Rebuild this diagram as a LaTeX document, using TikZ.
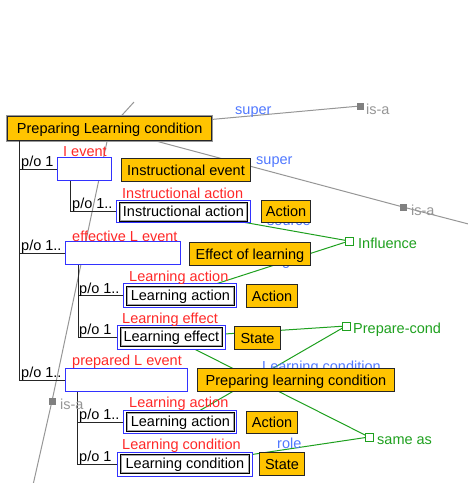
\documentclass[tikz,border=0pt]{standalone}
\usepackage{fontspec}
\setmainfont{Liberation Sans}
\usetikzlibrary{calc,backgrounds}
\definecolor{hozoorange}{RGB}{255,196,0}
\definecolor{hozoblue}{RGB}{50,50,255}
\definecolor{hozored}{RGB}{255,40,40}
\definecolor{rolblue}{RGB}{80,120,255}
\definecolor{hozogreen}{RGB}{30,160,30}
\definecolor{isagray}{RGB}{150,150,150}
\begin{document}
\begin{tikzpicture}[x=1pt,y=-1pt,font=\fontsize{14.5}{16}\selectfont,
  obox/.style={draw=black!85,line width=1pt,fill=hozoorange,anchor=north west,inner sep=0pt,
    text height=10pt,text depth=0pt,minimum height=23pt},
  mainbox/.style={obox,line width=1.4pt,preaction={draw=isagray,line width=3.4pt}},
  bbox/.style={draw=hozoblue,line width=1pt,fill=white,anchor=north west,inner sep=0pt},
  ibox/.style={draw=gray!70,line width=0.8pt,fill=white,anchor=north west,inner sep=0pt,
    text height=10pt,text depth=0pt,minimum height=17pt,preaction={draw=black,line width=2.6pt}},
  rlab/.style={text=hozored,anchor=base west,inner sep=0pt},
  blab/.style={text=rolblue,anchor=base west,inner sep=0pt},
  glab/.style={text=hozogreen,anchor=base west,inner sep=0pt},
  ilab/.style={text=isagray,anchor=base west,inner sep=0pt},
  po/.style={anchor=base west,inner sep=0pt},
  tree/.style={draw=black!85,line width=1pt},
  isaline/.style={draw=isagray,line width=1pt},
  gline/.style={draw=hozogreen,line width=1pt},
  gsq/.style={draw=hozogreen,fill=white,line width=1pt,minimum size=8pt,inner sep=0pt},
  isq/.style={fill=gray,minimum size=7pt,inner sep=0pt}]
\useasboundingbox (0,0) rectangle (468,483);

% main concept
\node[mainbox,minimum width=204pt,minimum height=24pt] (main) at (7,116) {Preparing Learning condition};

% slots
\node[bbox,minimum width=54pt,minimum height=23pt] (ev1) at (57,157) {};
\node[obox,minimum width=129pt] (ie) at (121,158) {Instructional event};
\node[bbox,minimum width=134pt,minimum height=22pt] (iab) at (116,200) {};
\node[ibox,minimum width=126pt] (ia) at (120,203) {Instructional action};
\node[obox,minimum width=49pt,minimum height=22pt] (act1) at (261,200) {Action};

\node[bbox,minimum width=115pt,minimum height=23pt] (ev2) at (65,241) {};
\node[obox,minimum width=121pt] (eol) at (189,242) {Effect of learning};
\node[bbox,minimum width=113pt,minimum height=24pt] (la1b) at (123,283) {};
\node[ibox,minimum width=106pt] (la1) at (127,287) {Learning action};
\node[obox,minimum width=51pt] (act2) at (246,284) {Action};
\node[bbox,minimum width=108pt,minimum height=24pt] (leb) at (117,325) {};
\node[ibox,minimum width=100pt] (le) at (121,328) {Learning effect};
\node[obox,minimum width=46pt] (st1) at (234,326) {State};

\node[bbox,minimum width=122pt,minimum height=23pt] (ev3) at (65,368) {};
\node[obox,minimum width=197pt] (plc) at (197,368) {Preparing learning condition};
\node[bbox,minimum width=113pt,minimum height=23pt] (la2b) at (123,410) {};
\node[ibox,minimum width=106pt] (la2) at (127,413) {Learning action};
\node[obox,minimum width=51pt,minimum height=22pt] (act3) at (246,411) {Action};
\node[bbox,minimum width=135pt,minimum height=24pt] (lcb) at (117,452) {};
\node[ibox,minimum width=127pt] (lc) at (121,455) {Learning condition};
\node[obox,minimum width=45pt] (st2) at (259,452) {State};

% red role names
\node[rlab] (r1) at (63,156) {I event};
\node[rlab] (r2) at (122,198) {Instructional action};
\node[rlab] (r3) at (72,241) {effective L event};
\node[rlab] (r4) at (129,281) {Learning action};
\node[rlab] (r5) at (122,323) {Learning effect};
\node[rlab] (r6) at (72,365) {prepared L event};
\node[rlab] (r7) at (129,407) {Learning action};
\node[rlab] (r8) at (122,449) {Learning condition};

% part-of tree
\draw[tree] ($(main.south west)+(12,0)$) |- (ev1.west);
\draw[tree] ($(main.south west)+(12,0)$) |- (ev2.west);
\draw[tree] ($(main.south west)+(12,0)$) |- (ev3.west);
\draw[tree] ($(ev1.south west)+(13,0)$) |- (iab.west);
\draw[tree] ($(ev2.south west)+(13,0)$) |- (la1b.west);
\draw[tree] ($(ev2.south west)+(13,0)$) |- (leb.west);
\draw[tree] ($(ev3.south west)+(12,0)$) |- (la2b.west);
\draw[tree] ($(ev3.south west)+(12,0)$) |- (lcb.west);
\node[po] (p1) at (21,166) {p/o 1};
\node[po] (p2) at (72,208) {p/o 1..};
\node[po] (p3) at (21,250) {p/o 1..};
\node[po] (p4) at (79,293) {p/o 1..};
\node[po] (p5) at (79,334) {p/o 1};
\node[po] (p6) at (21,377) {p/o 1..};
\node[po] (p7) at (79,419) {p/o 1..};
\node[po] (p8) at (79,461) {p/o 1};

% is-a squares and relation squares
\node[isq] (isa1) at (360,106) {};
\node[isq] (isa2) at (403,207) {};
\node[isq] (isa3) at (52,401) {};
\coordinate (isa2end) at (480,227);
\coordinate (isa3end) at (33,485);
\coordinate (upend) at (134,102);
\node[gsq] (inf) at (349,241) {};
\node[gsq] (pc) at (346,326) {};
\node[gsq] (sa) at (369,437) {};

\node[ilab] (t1) at (366,114) {is-a};
\node[ilab] (t2) at (411,215) {is-a};
\node[ilab] (t3) at (60,409) {is-a};
\node[glab] (t4) at (358,248) {Influence};
\node[glab] (t5) at (353,333) {Prepare-cond};
\node[glab] (t6) at (377,444) {same as};

\begin{scope}[on background layer]
  \draw[isaline] (main.center) -- (isa1.center);
  \draw[isaline] (main.center) -- (isa2.center) -- (isa2end);
  \draw[isaline] (main.center) -- (isa3.center) -- (isa3end);
  \draw[isaline] (main.center) -- (upend);
  \draw[gline] (iab.center) -- (inf.center);
  \draw[gline] (la1b.center) -- (inf.center);
  \draw[gline] (leb.center) -- (pc.center);
  \draw[gline] (la2b.center) -- (pc.center);
  \draw[gline] (leb.center) -- (sa.center);
  \draw[gline] (lcb.center) -- (sa.center);
  \node[blab] (s1) at (235,114) {super};
  \node[blab] (s2) at (256,164) {super};
  \node[blab] (s3) at (267,225) {source};
  \node[blab] (s4) at (265,265) {target};
  \node[blab] (s5) at (262,371) {Learning condition};
  \node[blab] (s6) at (277,448) {role};
\end{scope}
\end{tikzpicture}
\end{document}
